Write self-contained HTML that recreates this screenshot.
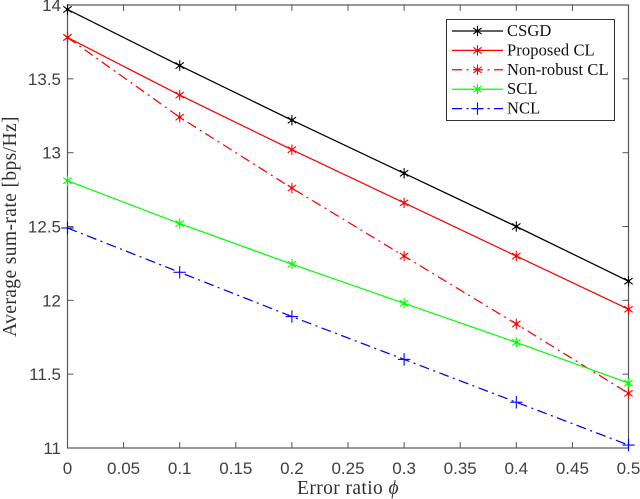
<!DOCTYPE html>
<html>
<head>
<meta charset="utf-8">
<style>
html,body{margin:0;padding:0;background:#fff;width:640px;height:499px;overflow:hidden}
svg{display:block;filter:blur(0.35px)}
.tick{font-family:"Liberation Sans",sans-serif;font-size:17px;fill:#404040}
.lab{font-family:"Liberation Serif",serif;font-size:19.5px;letter-spacing:0.4px;fill:#303030}
.leg{font-family:"Liberation Serif",serif;font-size:16.5px;letter-spacing:0.1px;fill:#111}
</style>
</head>
<body>
<svg id="chart" width="640" height="499" viewBox="0 0 640 499" xmlns="http://www.w3.org/2000/svg">
<g id="grid"></g>
<g id="plot"></g>
<text class="lab" x="348" y="494" text-anchor="middle">Error ratio <tspan font-style="italic">ϕ</tspan></text>
<text class="lab" transform="translate(16,226.5) rotate(-90)" text-anchor="middle">Average sum-rate [bps/Hz]</text>
<g id="legend"></g>
</svg>
<script>
const xCategories = [0, 0.1, 0.2, 0.3, 0.4, 0.5];
const csgdValues = [13.97, 13.59, 13.22, 12.86, 12.50, 12.13];
const proposedValues = [13.78, 13.39, 13.02, 12.66, 12.30, 11.94];
const nonRobustValues = [13.78, 13.24, 12.76, 12.30, 11.84, 11.37];
const sclValues = [12.81, 12.52, 12.245, 11.98, 11.715, 11.44];
const nclValues = [12.49, 12.19, 11.89, 11.60, 11.31, 11.02];
const xTickLabels = ['0','0.05','0.1','0.15','0.2','0.25','0.3','0.35','0.4','0.45','0.5'];
const yTickLabels = ['11','11.5','12','12.5','13','13.5','14'];
const seriesNames = ['CSGD','Proposed CL','Non-robust CL','SCL','NCL'];

const L = 67.5, R = 628.5, T = 5, B = 448;
const xScale = v => L + (v - 0) / 0.5 * (R - L);
const yScale = v => B - (v - 11) / 3 * (B - T);
const NS = 'http://www.w3.org/2000/svg';
function mk(tag, attrs, parent) {
  const el = document.createElementNS(NS, tag);
  for (const k in attrs) el.setAttribute(k, attrs[k]);
  parent.appendChild(el);
  return el;
}
const grid = document.getElementById('grid');
const plot = document.getElementById('plot');
const legend = document.getElementById('legend');
const AXC = '#555';

const frame = mk('rect', {x: L, y: T, width: R - L, height: B - T, fill: 'none', stroke: AXC, 'stroke-width': 1.2}, grid);



xTickLabels.forEach(s => {
  const v = parseFloat(s), x = xScale(v);
  const t1 = mk('line', {x1: x, x2: x, y1: B, y2: B - 6, stroke: AXC, 'stroke-width': 1}, grid);
  
  
  const t2 = mk('line', {x1: x, x2: x, y1: T, y2: T + 6, stroke: AXC, 'stroke-width': 1}, grid);
  
  
  const lab = mk('text', {class: 'tick', x: x, y: 474, 'text-anchor': 'middle'}, grid);
  
  
  lab.textContent = s;
});
yTickLabels.forEach(s => {
  const v = parseFloat(s), y = yScale(v);
  const t1 = mk('line', {x1: L, x2: L + 6, y1: y, y2: y, stroke: AXC, 'stroke-width': 1}, grid);
  
  
  const t2 = mk('line', {x1: R, x2: R - 6, y1: y, y2: y, stroke: AXC, 'stroke-width': 1}, grid);
  
  
  const lab = mk('text', {class: 'tick', x: 61, y: y + 6, 'text-anchor': 'end'}, grid);
  
  
  lab.textContent = s;
});

function marker(kind, cx, cy, color, parent) {
  const g = mk('g', {stroke: color, 'stroke-width': 1.1, fill: 'none'}, parent);
  const r = 5.2;
  const lines = kind === 'plus' ? [[r + 1, 0], [0, r + 1]] : [[0, r], [r * 0.8, r * 0.6], [r * 0.8, -r * 0.6]];
  lines.forEach(d => mk('line', {x1: cx - d[0], y1: cy - d[1], x2: cx + d[0], y2: cy + d[1]}, g));
  if (kind === 'star') mk('circle', {cx: cx, cy: cy, r: 1.6, fill: color, stroke: 'none'}, g);
  return g;
}
const DASHDOT = '10 4.5 2 4.5';
const seriesStyles = [
  {c: '#000000', dash: '', m: 'star'},
  {c: '#ff0000', dash: '', m: 'star'},
  {c: '#ff0000', dash: DASHDOT, m: 'star'},
  {c: '#00ff00', dash: '', m: 'star'},
  {c: '#0000ff', dash: DASHDOT, m: 'plus'}
];
const seriesValues = [csgdValues, proposedValues, nonRobustValues, sclValues, nclValues];
seriesValues.forEach((vals, i) => {
  const st = seriesStyles[i];
  const pts = vals.map((v, j) => xScale(xCategories[j]).toFixed(2) + ',' + yScale(v).toFixed(2)).join(' ');
  const line = mk('polyline', {points: pts, fill: 'none', stroke: st.c, 'stroke-width': 1.25}, plot);
  if (st.dash) line.setAttribute('stroke-dasharray', st.dash);
  
  
  vals.forEach((v, j) => {
    const mg = marker(st.m, xScale(xCategories[j]), yScale(v), st.c, plot);
    
    
  });
});

const box = mk('rect', {x: 446.5, y: 19.5, width: 168, height: 101, fill: '#fff', stroke: '#333', 'stroke-width': 1}, legend);


const rowGap = 19.4;
seriesNames.forEach((name, i) => {
  const st = seriesStyles[i];
  const y = 31 + i * rowGap;
  const l = mk('line', {x1: 452, x2: 503, y1: y, y2: y, stroke: st.c, 'stroke-width': 1.25}, legend);
  if (st.dash) l.setAttribute('stroke-dasharray', st.dash);
  
  
  const mg = marker(st.m, 477.5, y, st.c, legend);
  
  
  const t = mk('text', {class: 'leg', x: 507, y: y + 5}, legend);
  
  
  t.textContent = name;
});
</script>
</body>
</html>
